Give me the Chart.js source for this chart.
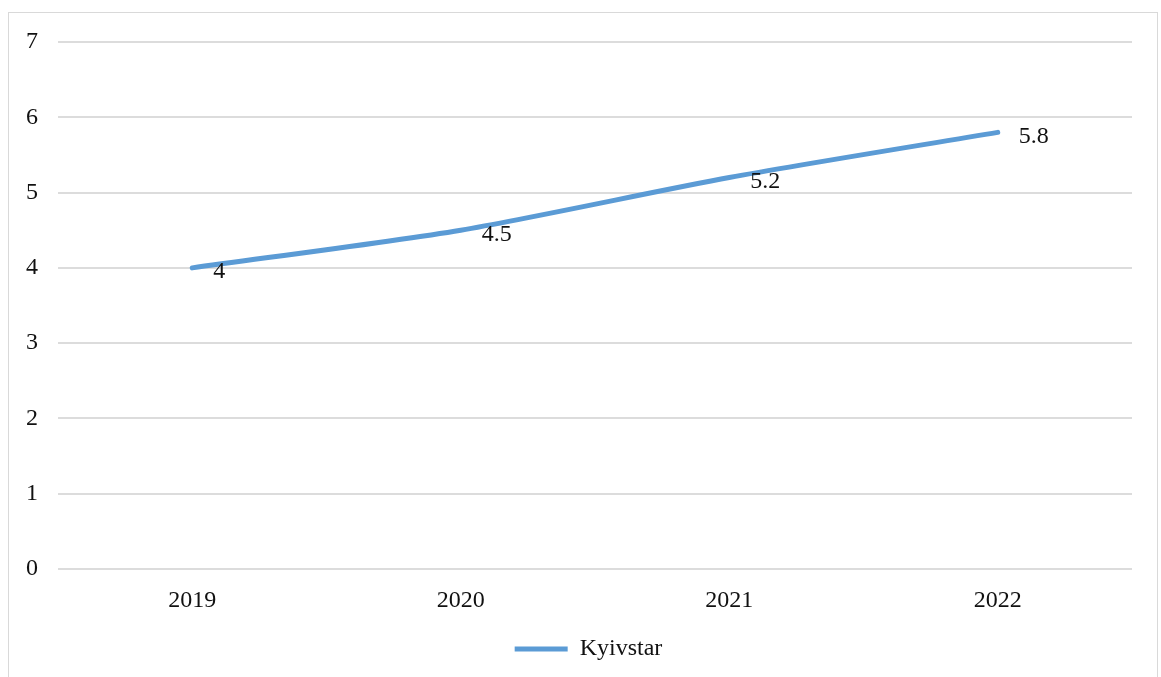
<!DOCTYPE html>
<html>
<head>
<meta charset="utf-8">
<script src="https://cdn.jsdelivr.net/npm/chart.js@4"></script>
<style>
    html, body { margin: 0; padding: 0; background: #fff; overflow: hidden; }
    #frame {
        position: absolute; left: 8px; top: 12px; width: 1150px; height: 700px;
        border: 1.5px solid #d9d9d9; box-sizing: border-box;
    }
    #lineChart { position: absolute; left: 0; top: 0; }
</style>
</head>
<body>
<div id="frame"></div>
<canvas id="lineChart" width="1161" height="677"></canvas>
<script>
const years = ["2019", "2020", "2021", "2022"];
const kyivstar = [4, 4.5, 5.2, 5.8];

const serif = "'Liberation Serif', 'Times New Roman', serif";

// value labels to the right of each point
const valueLabels = {
    id: "valueLabels",
    afterDatasetsDraw(chart) {
        const ctx = chart.ctx;
        const meta = chart.getDatasetMeta(0);
        ctx.save();
        ctx.font = "24px " + serif;
        ctx.fillStyle = "#111";
        ctx.textAlign = "left";
        ctx.textBaseline = "middle";
        meta.data.forEach((pt, i) => {
            ctx.fillText(String(kyivstar[i]), pt.x + 21, pt.y + 4);
        });
        ctx.restore();
    }
};

new Chart(document.getElementById("lineChart"), {
    type: "line",
    data: {
        labels: years,
        datasets: [{
            label: "Kyivstar",
            data: kyivstar,
            borderColor: "#5b9bd5",
            backgroundColor: "#5b9bd5",
            borderWidth: 5,
            borderCapStyle: "round",
            borderJoinStyle: "round",
            tension: 0.25,
            pointRadius: 0,
            fill: false,
        }],
    },
    options: {
        responsive: false,
        animation: false,
        devicePixelRatio: 1,
        layout: { padding: { left: 16, right: 0, top: 42, bottom: 6 } },
        scales: {
            x: {
                offset: true,
                grid: { display: false, drawTicks: false },
                border: { display: false },
                ticks: { color: "#111", font: { family: serif, size: 24 }, padding: 17 },
                afterFit(scale) { scale.height = 58; },
            },
            y: {
                min: 0,
                max: 7,
                grid: { color: "#dcdcdc", lineWidth: 2, drawTicks: false },
                border: { display: false },
                ticks: { stepSize: 1, color: "#111", font: { family: serif, size: 24 }, padding: 20 },
                afterFit(scale) { scale.width = 42; },
            },
            // empty right-hand axis, only keeps space beside the plot
            yRight: {
                type: "linear",
                position: "right",
                min: 0,
                max: 7,
                grid: { display: false, drawTicks: false },
                border: { display: false },
                ticks: { display: false },
                afterFit(scale) { scale.width = 29; },
            },
        },
        plugins: {
            legend: {
                position: "bottom",
                labels: {
                    usePointStyle: true,
                    pointStyle: "line",
                    pointStyleWidth: 53,
                    padding: 10,
                    color: "#111",
                    font: { family: serif, size: 24 },
                },
            },
            tooltip: { enabled: false },
        },
    },
    plugins: [valueLabels],
});
</script>
</body>
</html>
